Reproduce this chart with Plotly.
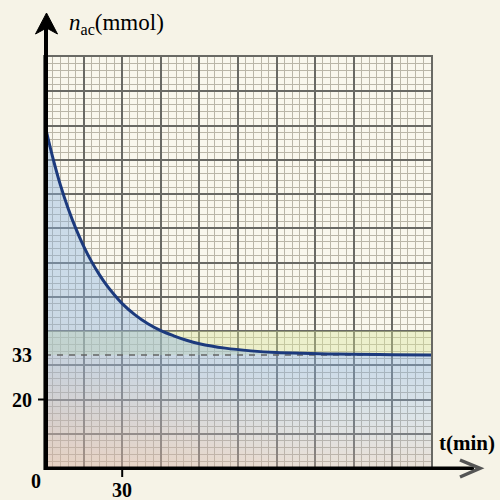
import plotly.graph_objects as go

# ---- data ----
t_min = [0, 3, 6, 9, 12, 15, 18, 21, 24, 27, 30, 35, 40, 45, 50, 55, 60, 70, 80, 90, 100, 110, 120, 135, 150]
n_ac = [100, 90.7, 82.6, 75.8, 69.9, 64.8, 60.4, 56.6, 53.3, 50.5, 48.0, 44.7, 42.1, 40.1, 38.6, 37.3, 36.3, 35.0, 34.2, 33.7, 33.5, 33.3, 33.2, 33.1, 33.0]
asymptote = 33
band_low, band_high = 33, 40
x_labels = ["0", "30"]
y_labels = ["33", "20"]

X_MAX, Y_MAX = 150, 120

# ---- geometry helpers (pixel -> paper) ----
L, T, W, H = 45, 57, 386, 411
def px(x):
    return (x - L) / W
def py(y):
    return (T + H - y) / H

SERIF = "Liberation Serif"
fig = go.Figure()

# yellow-green band
fig.add_trace(go.Scatter(x=[0, X_MAX, X_MAX, 0, 0], y=[band_low, band_low, band_high, band_high, band_low],
                         fill="toself", fillcolor="rgba(215,230,150,0.38)", mode="lines",
                         line=dict(width=0), hoverinfo="skip", showlegend=False))

# blue area under curve with vertical gradient
fig.add_trace(go.Scatter(x=t_min, y=n_ac, mode="lines", line=dict(width=0, shape="spline"),
                         fill="tozeroy",
                         fillgradient=dict(type="vertical", start=0, stop=100,
                                           colorscale=[[0, "rgba(140,180,225,0.10)"],
                                                       [0.3, "rgba(140,180,225,0.42)"],
                                                       [1, "rgba(140,180,225,0.42)"]]),
                         hoverinfo="skip", showlegend=False))

# warm tint (bottom-left)
fig.add_trace(go.Heatmap(x=[0, 50, 100, 150], y=[0, 15, 30, 45],
                         z=[[1.0, 0.9, 0.6, 0.5],
                            [0.85, 0.5, 0.15, 0.05],
                            [0.5, 0.15, 0.0, 0.0],
                            [0.1, 0.0, 0.0, 0.0]],
                         zmin=0, zmax=1, zsmooth="best", showscale=False, hoverinfo="skip",
                         colorscale=[[0, "rgba(232,178,145,0)"], [1, "rgba(232,178,145,0.5)"]]))

# dashed asymptote
fig.add_trace(go.Scatter(x=[0, X_MAX], y=[asymptote, asymptote], mode="lines",
                         line=dict(color="rgb(100,100,100)", width=1.5, dash="6px,6px"),
                         hoverinfo="skip", showlegend=False))

# curve
fig.add_trace(go.Scatter(x=t_min, y=n_ac, mode="lines",
                         line=dict(color="rgb(28,58,125)", width=3, shape="spline"),
                         hoverinfo="skip", showlegend=False))

major = "rgb(105,105,100)"
minor = "rgb(186,182,168)"
fig.update_xaxes(range=[0, X_MAX], dtick=15, tick0=0, showgrid=True, gridcolor=major, gridwidth=2,
                 minor=dict(dtick=3, tick0=0, showgrid=True, gridcolor=minor, gridwidth=1),
                 showticklabels=False, ticks="", zeroline=False,
                 showline=True, mirror=True, linecolor=major, linewidth=2, fixedrange=True)
fig.update_yaxes(range=[0, Y_MAX], dtick=10, tick0=0, showgrid=True, gridcolor=major, gridwidth=2,
                 minor=dict(dtick=2, tick0=0, showgrid=True, gridcolor=minor, gridwidth=1),
                 showticklabels=False, ticks="", zeroline=False,
                 showline=True, mirror=True, linecolor=major, linewidth=2, fixedrange=True)

shapes = [
    # y axis
    dict(type="line", xref="paper", yref="paper", x0=px(46), x1=px(46), y0=py(470), y1=py(28),
         line=dict(color="black", width=4)),
    dict(type="path", xref="paper", yref="paper",
         path=f"M {px(46.5)} {py(13)} L {px(35.5)} {py(34)} L {px(46.5)} {py(28)} L {px(57.5)} {py(34)} Z",
         fillcolor="black", line=dict(color="black", width=1)),
    # x axis
    dict(type="line", xref="paper", yref="paper", x0=px(44), x1=px(474), y0=py(468.3), y1=py(468.3),
         line=dict(color="black", width=3.5)),
    dict(type="path", xref="paper", yref="paper",
         path=f"M {px(460)} {py(460)} L {px(480)} {py(468.3)} L {px(460)} {py(477)}",
         line=dict(color="rgb(85,85,85)", width=3.5)),
    # ticks
    dict(type="line", xref="paper", yref="paper", x0=px(38), x1=px(46), y0=20 / Y_MAX, y1=20 / Y_MAX,
         line=dict(color="black", width=2)),
    dict(type="line", xref="paper", yref="paper", x0=30 / X_MAX, x1=30 / X_MAX, y0=0, y1=py(477),
         line=dict(color="black", width=2)),
]

num_font = dict(family=SERIF, size=20, color="black")
annotations = [
    dict(text="<i>n</i><sub>ac</sub>(mmol)", xref="paper", yref="paper", x=px(67), y=py(24),
         xanchor="left", yanchor="middle", showarrow=False, font=dict(family=SERIF, size=23, color="black")),
    dict(text="<b>t(min)</b>", xref="paper", yref="paper", x=px(467), y=py(443),
         xanchor="center", yanchor="middle", showarrow=False, font=dict(family=SERIF, size=21, color="black")),
    dict(text=f"<b>{x_labels[0]}</b>", xref="paper", yref="paper", x=px(36), y=py(481),
         xanchor="center", yanchor="middle", showarrow=False, font=num_font),
    dict(text=f"<b>{x_labels[1]}</b>", xref="x", yref="paper", x=30, y=py(490),
         xanchor="center", yanchor="middle", showarrow=False, font=num_font),
    dict(text=f"<b>{y_labels[0]}</b>", xref="paper", yref="y", x=px(22), y=33,
         xanchor="center", yanchor="middle", showarrow=False, font=num_font),
    dict(text=f"<b>{y_labels[1]}</b>", xref="paper", yref="y", x=px(22), y=20,
         xanchor="center", yanchor="middle", showarrow=False, font=num_font),
]

fig.update_layout(width=500, height=500, margin=dict(l=L, r=500 - L - W, t=T, b=500 - T - H),
                  paper_bgcolor="rgb(246,243,231)", plot_bgcolor="rgb(249,247,237)",
                  shapes=shapes, annotations=annotations, showlegend=False)

fig.write_html("out.html")
